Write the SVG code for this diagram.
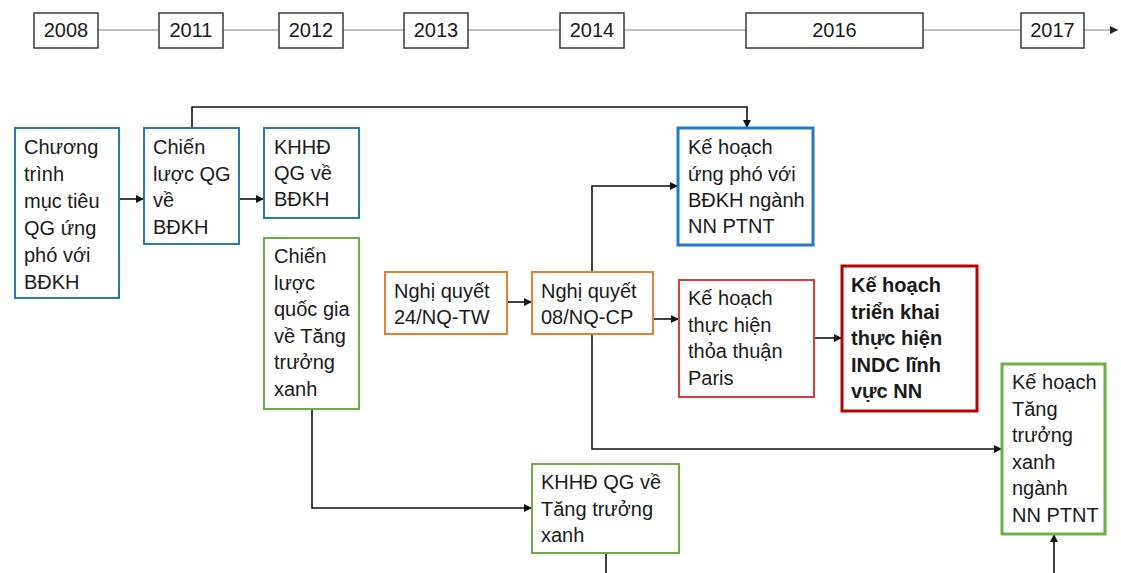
<svg xmlns="http://www.w3.org/2000/svg" width="1121" height="573" viewBox="0 0 1121 573">
<style>
text{font-family:"Liberation Sans",Arial,sans-serif;font-size:20px;fill:#1a1a1a}
.yr{text-anchor:middle}
.b{font-weight:bold}
.tl{fill:#fff;stroke:#3a3a3a;stroke-width:1.5}
.tline{stroke:#808080;stroke-width:1.2;fill:none}
.blue{fill:#fff;stroke:#2E75B6;stroke-width:2}
.blue3{fill:#fff;stroke:#1F7BC8;stroke-width:3}
.green{fill:#fff;stroke:#70AD47;stroke-width:2}
.green3{fill:#fff;stroke:#70AD47;stroke-width:3}
.orange{fill:#fff;stroke:#ED7D31;stroke-width:2}
.red{fill:#fff;stroke:#E0393E;stroke-width:2}
.red3{fill:#fff;stroke:#C00000;stroke-width:3}
.c{stroke:#111;stroke-width:1.6;fill:none}
.ca{stroke:#111;stroke-width:1.6;fill:none;marker-end:url(#ah)}
</style>
<defs>
<marker id="ah" viewBox="0 0 10 10" refX="10" refY="5" markerWidth="5" markerHeight="5" orient="auto" markerUnits="strokeWidth">
<path d="M0,0 L10,5 L0,10 z" fill="#111"/>
</marker>
<marker id="ahg" viewBox="0 0 10 10" refX="10" refY="5" markerWidth="7" markerHeight="7" orient="auto" markerUnits="strokeWidth">
<path d="M0,0 L10,5 L0,10 z" fill="#222"/>
</marker>
</defs>

<g id="timeline">
<line class="tline" x1="98" y1="30" x2="1118" y2="30" marker-end="url(#ahg)"/>
<rect class="tl" x="34" y="13" width="64" height="35"/><text class="yr" x="66" y="37">2008</text>
<rect class="tl" x="159" y="13" width="64" height="35"/><text class="yr" x="191" y="37">2011</text>
<rect class="tl" x="279" y="13" width="64" height="35"/><text class="yr" x="311" y="37">2012</text>
<rect class="tl" x="404" y="13" width="64" height="35"/><text class="yr" x="436" y="37">2013</text>
<rect class="tl" x="560" y="13" width="64" height="35"/><text class="yr" x="592" y="37">2014</text>
<rect class="tl" x="746" y="13" width="177" height="35"/><text class="yr" x="834.5" y="37">2016</text>
<rect class="tl" x="1021" y="13" width="63" height="35"/><text class="yr" x="1052.5" y="37">2017</text>
</g>

<g id="connectors">
<path class="ca" d="M119,199 H144"/>
<path class="ca" d="M239,199 H264"/>
<path class="ca" d="M192,128 V107 H747 V128"/>
<path class="ca" d="M507,302 H532"/>
<path class="ca" d="M592,272 V186 H678"/>
<path class="ca" d="M653,319 H679"/>
<path class="ca" d="M592,334 V449 H1002"/>
<path class="ca" d="M814,338 H842"/>
<path class="ca" d="M312,409 V508 H532"/>
<path class="c" d="M606,553 V573"/>
<path class="ca" d="M1054,573 V534"/>
</g>

<g id="n-chuongtrinh">
<rect class="blue" x="15" y="128" width="104" height="170"/>
<text x="24" y="154">Chương</text>
<text x="24" y="181">trình</text>
<text x="24" y="208">mục tiêu</text>
<text x="24" y="235">QG ứng</text>
<text x="24" y="262">phó với</text>
<text x="24" y="289">BĐKH</text>
</g>

<g id="n-chienluoc-bdkh">
<rect class="blue" x="144" y="128" width="95" height="116"/>
<text x="153" y="154">Chiến</text>
<text x="153" y="180.5">lược QG</text>
<text x="153" y="207">về</text>
<text x="153" y="233.5">BĐKH</text>
</g>

<g id="n-khhd-bdkh">
<rect class="blue" x="264" y="128" width="95" height="90"/>
<text x="274" y="154">KHHĐ</text>
<text x="274" y="180">QG về</text>
<text x="274" y="206">BĐKH</text>
</g>

<g id="n-chienluoc-ttx">
<rect class="green" x="264" y="238" width="95" height="171"/>
<text x="274" y="263">Chiến</text>
<text x="274" y="290">lược</text>
<text x="274" y="316">quốc gia</text>
<text x="274" y="343">về Tăng</text>
<text x="274" y="369">trưởng</text>
<text x="274" y="396">xanh</text>
</g>

<g id="n-nq24">
<rect class="orange" x="385" y="272" width="122" height="62"/>
<text x="394" y="298">Nghị quyết</text>
<text x="394" y="324">24/NQ-TW</text>
</g>

<g id="n-nq08">
<rect class="orange" x="532" y="272" width="121" height="62"/>
<text x="541" y="298">Nghị quyết</text>
<text x="541" y="324">08/NQ-CP</text>
</g>

<g id="n-kh-ungpho">
<rect class="blue3" x="678" y="128" width="135" height="117"/>
<text x="688" y="154">Kế hoạch</text>
<text x="688" y="180.5">ứng phó với</text>
<text x="688" y="207">BĐKH ngành</text>
<text x="688" y="233">NN PTNT</text>
</g>

<g id="n-kh-paris">
<rect class="red" x="679" y="280" width="135" height="117"/>
<text x="688" y="305">Kế hoạch</text>
<text x="688" y="332">thực hiện</text>
<text x="688" y="358">thỏa thuận</text>
<text x="688" y="385">Paris</text>
</g>

<g id="n-kh-indc">
<rect class="red3" x="842" y="266" width="135" height="145"/>
<text class="b" x="851" y="292">Kế hoạch</text>
<text class="b" x="851" y="318.5">triển khai</text>
<text class="b" x="851" y="345">thực hiện</text>
<text class="b" x="851" y="371.5">INDC lĩnh</text>
<text class="b" x="851" y="398">vực NN</text>
</g>

<g id="n-kh-ttx-nn">
<rect class="green3" x="1002" y="364" width="103" height="170"/>
<text x="1012" y="389">Kế hoạch</text>
<text x="1012" y="415.5">Tăng</text>
<text x="1012" y="442">trưởng</text>
<text x="1012" y="468.5">xanh</text>
<text x="1012" y="495">ngành</text>
<text x="1012" y="521.5">NN PTNT</text>
</g>

<g id="n-khhd-ttx">
<rect class="green" x="532" y="464" width="147" height="89"/>
<text x="541" y="489">KHHĐ QG về</text>
<text x="541" y="516">Tăng trưởng</text>
<text x="541" y="542">xanh</text>
</g>
</svg>
